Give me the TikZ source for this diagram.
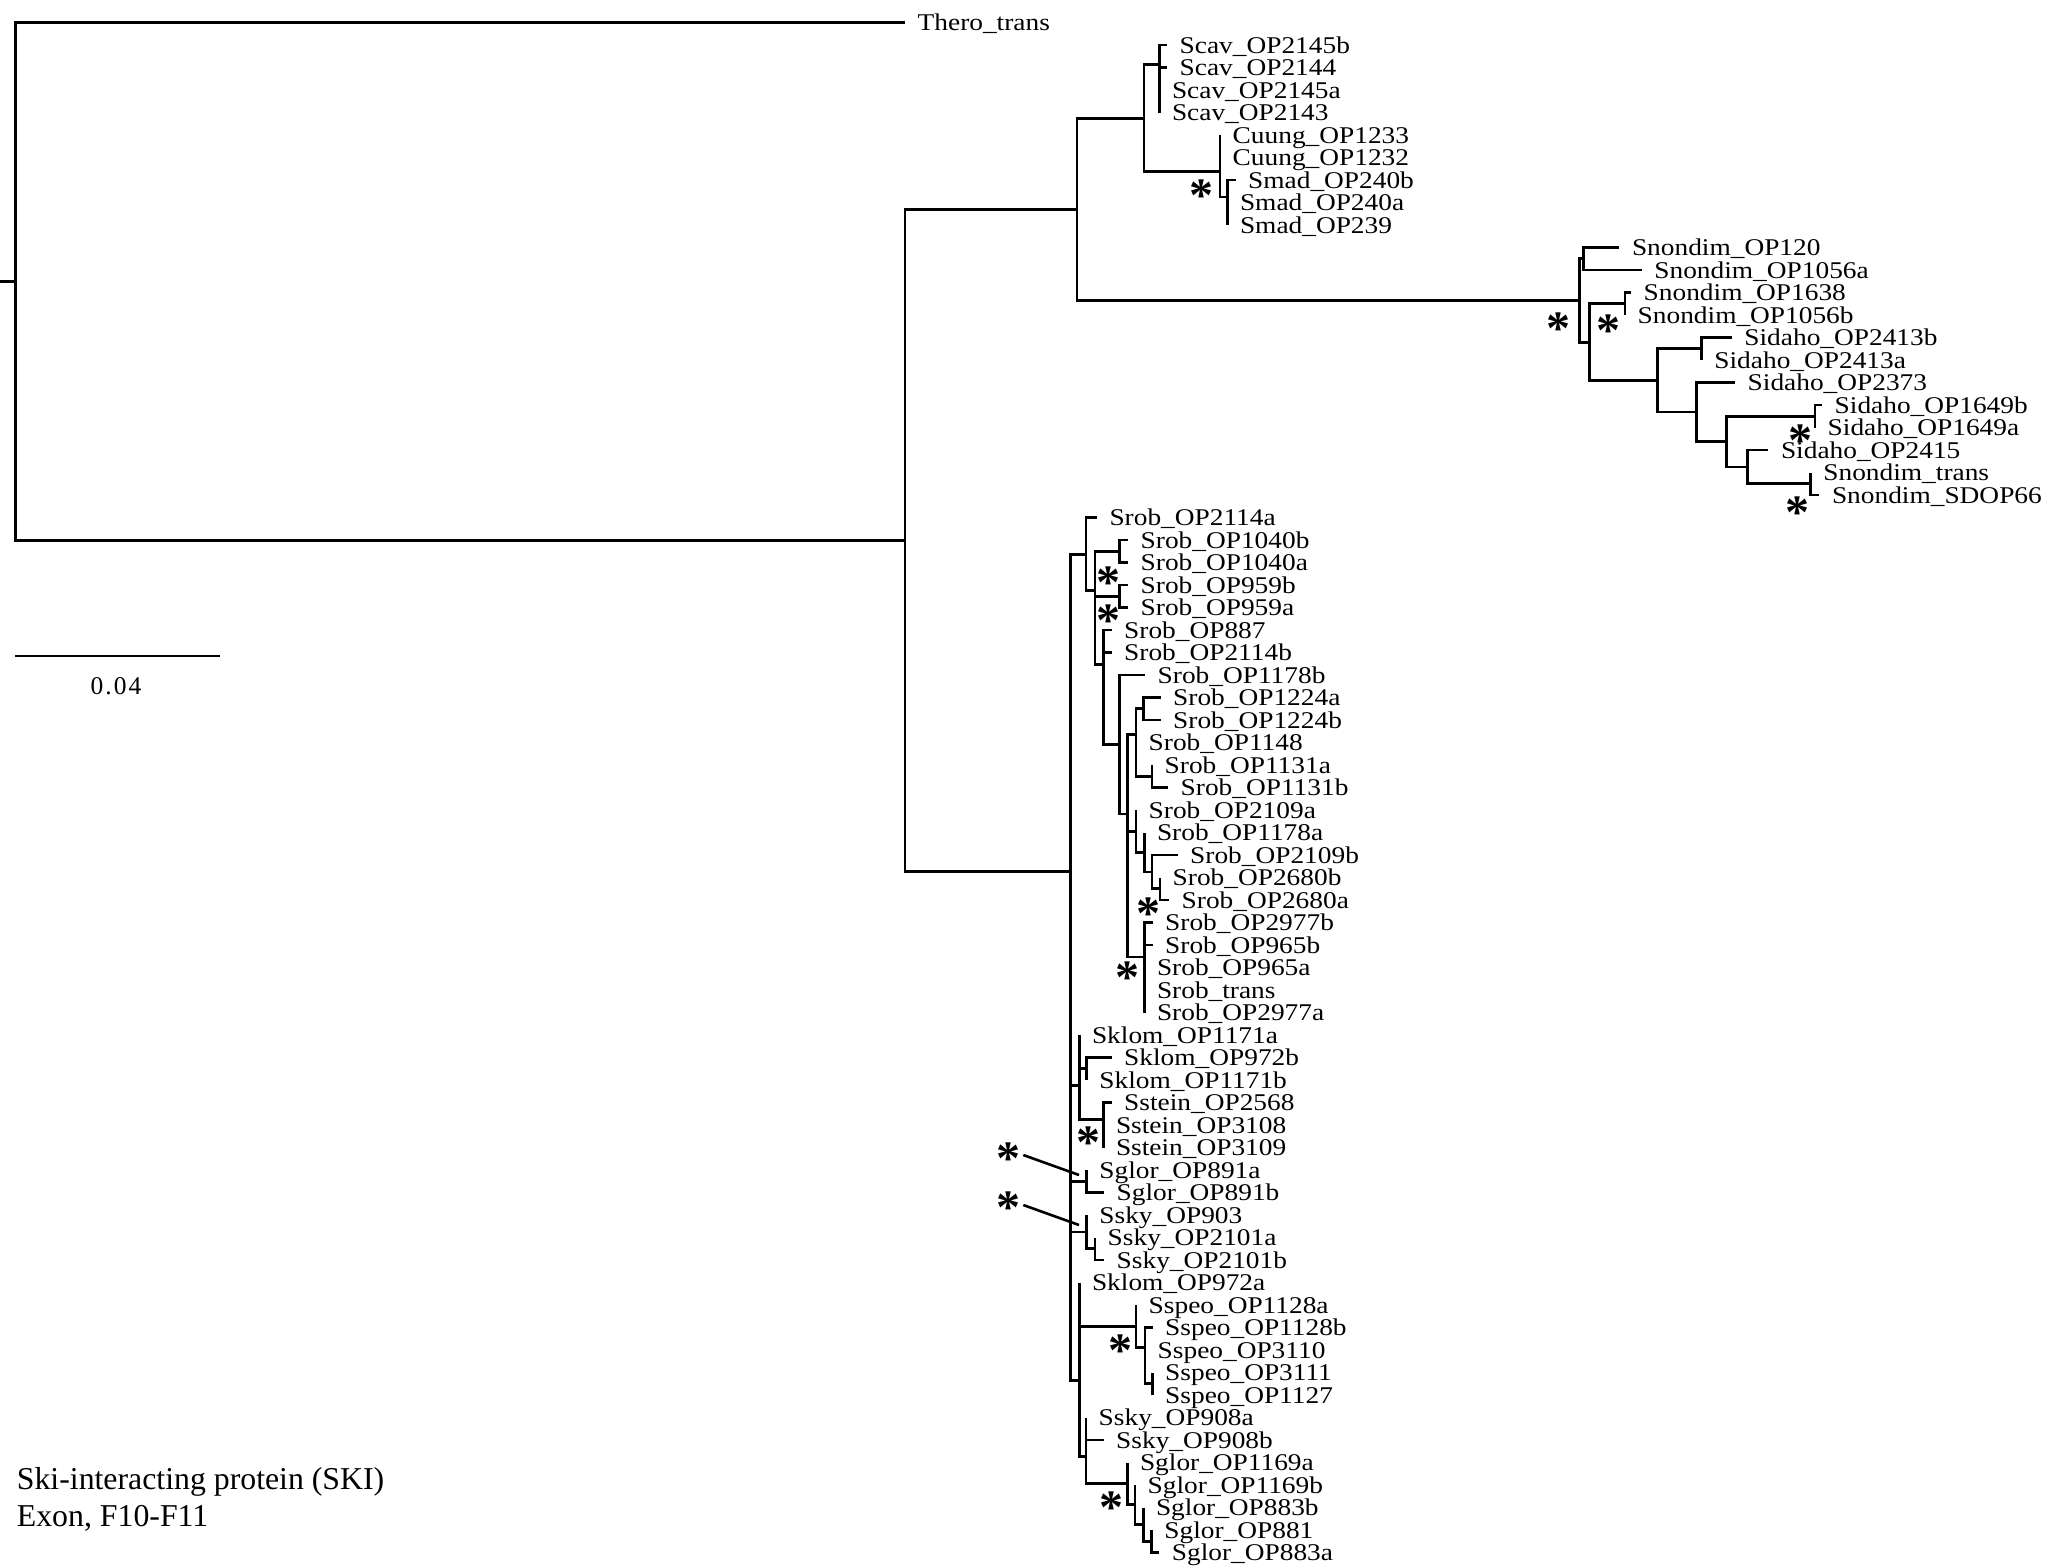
\documentclass[tikz,border=0pt]{standalone}
\usepackage{fontspec}
\setmainfont{Liberation Serif}
\newfontfamily\tipfam[FakeStretch=1.14]{Liberation Serif}
\newcommand\tipfont{\tipfam\fontsize{24pt}{24pt}\selectfont}
\newcommand\astfont{\rmfamily\bfseries\fontsize{48pt}{48pt}\selectfont}
\newcommand\capfont{\rmfamily\fontsize{31.8pt}{36.7pt}\selectfont}
\newcommand\scfont{\rmfamily\fontsize{25.5pt}{25.5pt}\selectfont}
\tikzset{
  br/.style={line width=2.8pt},
  tl/.style={anchor=base west, inner sep=0pt, xshift=12.5pt, yshift=-8pt, font=\tipfont},
  ast/.style={anchor=base, inner sep=0pt, font=\astfont},
  lead/.style={line width=2.6pt}
}
\newcommand\Tip[4]{\coordinate (#1) at (#2,#3*22.5); \node[tl] (#1l) at (#1) {#4};}
\newcommand\E[2]{\foreach \c in {#2}{\draw[br] (#1) |- (\c);}}
\begin{document}
\begin{tikzpicture}[x=1pt,y=-1pt]
\useasboundingbox (0,0) rectangle (2063,1567);
% internal nodes
\coordinate (rs) at (0,281.5);
\coordinate (R) at (15.5,281.5);
\coordinate (I) at (905,540.6);
\coordinate (U) at (1077,209.3);
\coordinate (L) at (1070.7,871.8);
\coordinate (SC) at (1144,118.15);
\coordinate (SN) at (1579.3,300.4);
\coordinate (Sv) at (1159.3,64.7);
\coordinate (CS) at (1220,171.6);
\coordinate (Sm) at (1227.3,196.9);
\coordinate (SN1) at (1583.3,258.75);
\coordinate (SN2) at (1589.3,342.1);
\coordinate (SN3) at (1625,303.75);
\coordinate (SI) at (1657.7,380.4);
\coordinate (SI1) at (1701.7,348.75);
\coordinate (SI2) at (1696.7,412);
\coordinate (SI3) at (1726.7,441.6);
\coordinate (SI4) at (1815,416.25);
\coordinate (SI5) at (1747.3,466.9);
\coordinate (SN6) at (1810.7,483.75);
\coordinate (B1) at (1086,554.1);
\coordinate (B2) at (1095,590.75);
\coordinate (C1) at (1119.3,551.25);
\coordinate (C2) at (1119.3,596.25);
\coordinate (B3) at (1103.3,664.25);
\coordinate (B4) at (1119.3,744.5);
\coordinate (B5) at (1127.3,814);
\coordinate (B6) at (1136,734.1);
\coordinate (C3) at (1143.3,708.75);
\coordinate (C4) at (1152,776.25);
\coordinate (B7) at (1136,831.1);
\coordinate (B7a) at (1144.3,852.2);
\coordinate (B7b) at (1152,871.9);
\coordinate (B7c) at (1160,888.75);
\coordinate (B8) at (1144.3,957);
\coordinate (K) at (1079.3,1085.6);
\coordinate (K1) at (1086.7,1068.75);
\coordinate (K2) at (1103.3,1119.4);
\coordinate (G) at (1086.7,1181.25);
\coordinate (S1) at (1086.7,1231.9);
\coordinate (S2) at (1095,1248.75);
\coordinate (M) at (1079.3,1380.2);
\coordinate (P) at (1136,1326.1);
\coordinate (P1) at (1145,1347.2);
\coordinate (P2) at (1152.5,1383.75);
\coordinate (Q) at (1086,1456.2);
\coordinate (Q1) at (1127.3,1483.6);
\coordinate (Q2) at (1135,1504.7);
\coordinate (Q3) at (1143.3,1524.4);
\coordinate (Q4) at (1151.7,1541.25);
% tips
\Tip{t1}{905}{1}{Thero\_trans}
\Tip{t2}{1167}{2}{Scav\_OP2145b}
\Tip{t3}{1167}{3}{Scav\_OP2144}
\Tip{t4}{1159.3}{4}{Scav\_OP2145a}
\Tip{t5}{1159.3}{5}{Scav\_OP2143}
\Tip{t6}{1220}{6}{Cuung\_OP1233}
\Tip{t7}{1220}{7}{Cuung\_OP1232}
\Tip{t8}{1235.5}{8}{Smad\_OP240b}
\Tip{t9}{1227.3}{9}{Smad\_OP240a}
\Tip{t10}{1227.3}{10}{Smad\_OP239}
\Tip{t11}{1619.3}{11}{Snondim\_OP120}
\Tip{t12}{1641.7}{12}{Snondim\_OP1056a}
\Tip{t13}{1631}{13}{Snondim\_OP1638}
\Tip{t14}{1625}{14}{Snondim\_OP1056b}
\Tip{t15}{1731.7}{15}{Sidaho\_OP2413b}
\Tip{t16}{1701.7}{16}{Sidaho\_OP2413a}
\Tip{t17}{1735}{17}{Sidaho\_OP2373}
\Tip{t18}{1822}{18}{Sidaho\_OP1649b}
\Tip{t19}{1815}{19}{Sidaho\_OP1649a}
\Tip{t20}{1768.3}{20}{Sidaho\_OP2415}
\Tip{t21}{1810.7}{21}{Snondim\_trans}
\Tip{t22}{1819.3}{22}{Snondim\_SDOP66}
\Tip{t23}{1096.8}{23}{Srob\_OP2114a}
\Tip{t24}{1128}{24}{Srob\_OP1040b}
\Tip{t25}{1128}{25}{Srob\_OP1040a}
\Tip{t26}{1128}{26}{Srob\_OP959b}
\Tip{t27}{1128}{27}{Srob\_OP959a}
\Tip{t28}{1111.5}{28}{Srob\_OP887}
\Tip{t29}{1111.5}{29}{Srob\_OP2114b}
\Tip{t30}{1145}{30}{Srob\_OP1178b}
\Tip{t31}{1160.5}{31}{Srob\_OP1224a}
\Tip{t32}{1160.5}{32}{Srob\_OP1224b}
\Tip{t33}{1136}{33}{Srob\_OP1148}
\Tip{t34}{1152}{34}{Srob\_OP1131a}
\Tip{t35}{1168}{35}{Srob\_OP1131b}
\Tip{t36}{1136}{36}{Srob\_OP2109a}
\Tip{t37}{1144.3}{37}{Srob\_OP1178a}
\Tip{t38}{1177.5}{38}{Srob\_OP2109b}
\Tip{t39}{1160}{39}{Srob\_OP2680b}
\Tip{t40}{1169}{40}{Srob\_OP2680a}
\Tip{t41}{1152.5}{41}{Srob\_OP2977b}
\Tip{t42}{1152.5}{42}{Srob\_OP965b}
\Tip{t43}{1144.3}{43}{Srob\_OP965a}
\Tip{t44}{1144.3}{44}{Srob\_trans}
\Tip{t45}{1144.3}{45}{Srob\_OP2977a}
\Tip{t46}{1079.3}{46}{Sklom\_OP1171a}
\Tip{t47}{1111.5}{47}{Sklom\_OP972b}
\Tip{t48}{1086.7}{48}{Sklom\_OP1171b}
\Tip{t49}{1111.5}{49}{Sstein\_OP2568}
\Tip{t50}{1103.3}{50}{Sstein\_OP3108}
\Tip{t51}{1103.3}{51}{Sstein\_OP3109}
\Tip{t52}{1086.7}{52}{Sglor\_OP891a}
\Tip{t53}{1104}{53}{Sglor\_OP891b}
\Tip{t54}{1086.7}{54}{Ssky\_OP903}
\Tip{t55}{1095}{55}{Ssky\_OP2101a}
\Tip{t56}{1104}{56}{Ssky\_OP2101b}
\Tip{t57}{1079.3}{57}{Sklom\_OP972a}
\Tip{t58}{1136}{58}{Sspeo\_OP1128a}
\Tip{t59}{1152.5}{59}{Sspeo\_OP1128b}
\Tip{t60}{1145}{60}{Sspeo\_OP3110}
\Tip{t61}{1152.5}{61}{Sspeo\_OP3111}
\Tip{t62}{1152.5}{62}{Sspeo\_OP1127}
\Tip{t63}{1086}{63}{Ssky\_OP908a}
\Tip{t64}{1103.5}{64}{Ssky\_OP908b}
\Tip{t65}{1127.3}{65}{Sglor\_OP1169a}
\Tip{t66}{1135}{66}{Sglor\_OP1169b}
\Tip{t67}{1143.3}{67}{Sglor\_OP883b}
\Tip{t68}{1151.7}{68}{Sglor\_OP881}
\Tip{t69}{1159.2}{69}{Sglor\_OP883a}
% branches
\draw[br] (rs) -- (R);
\E{R}{t1,I}
\E{I}{U,L}
\E{U}{SC,SN}
\E{SC}{Sv,CS}
\E{Sv}{t2,t3,t4,t5}
\E{CS}{t6,t7,Sm}
\E{Sm}{t8,t9,t10}
\E{SN}{SN1,SN2}
\E{SN1}{t11,t12}
\E{SN2}{SN3,SI}
\E{SN3}{t13,t14}
\E{SI}{SI1,SI2}
\E{SI1}{t15,t16}
\E{SI2}{t17,SI3}
\E{SI3}{SI4,SI5}
\E{SI4}{t18,t19}
\E{SI5}{t20,SN6}
\E{SN6}{t21,t22}
\E{L}{B1,K,G,S1,M}
\E{B1}{t23,B2}
\E{B2}{C1,C2,B3}
\E{C1}{t24,t25}
\E{C2}{t26,t27}
\E{B3}{t28,t29,B4}
\E{B4}{t30,B5}
\E{B5}{B6,B7,B8}
\E{B6}{C3,t33,C4}
\E{C3}{t31,t32}
\E{C4}{t34,t35}
\E{B7}{t36,B7a}
\E{B7a}{t37,B7b}
\E{B7b}{t38,B7c}
\E{B7c}{t39,t40}
\E{B8}{t41,t42,t43,t44,t45}
\E{K}{t46,K1,K2}
\E{K1}{t47,t48}
\E{K2}{t49,t50,t51}
\E{G}{t52,t53}
\E{S1}{t54,S2}
\E{S2}{t55,t56}
\E{M}{t57,P,Q}
\E{P}{t58,P1}
\E{P1}{t59,t60,P2}
\E{P2}{t61,t62}
\E{Q}{t63,t64,Q1}
\E{Q1}{t65,Q2}
\E{Q2}{t66,Q3}
\E{Q3}{t67,Q4}
\E{Q4}{t68,t69}
% asterisks
\node[ast] (a1) at (1201.7,211.3) {*};
\node[ast] (a2) at (1558.3,344.7) {*};
\node[ast] (a3) at (1608.3,346.3) {*};
\node[ast] (a4) at (1800,456) {*};
\node[ast] (a5) at (1797,528) {*};
\node[ast] (a6) at (1108.3,598) {*};
\node[ast] (a7) at (1108.3,636.3) {*};
\node[ast] (a8) at (1148.3,929.7) {*};
\node[ast] (a9) at (1127.3,993) {*};
\node[ast] (a10) at (1088.3,1158) {*};
\node[ast] (a11) at (1008.3,1174.7) {*};
\node[ast] (a12) at (1008.3,1223) {*};
\node[ast] (a13) at (1120,1366.3) {*};
\node[ast] (a14) at (1111.7,1523) {*};
% leaders
\coordinate (l1s) at (1023.3,1155);
\coordinate (l1e) at (1079,1175);
\coordinate (l2s) at (1023.3,1205);
\coordinate (l2e) at (1079,1225);
\draw[lead] (l1s) -- (l1e);
\draw[lead] (l2s) -- (l2e);
% scale bar
\coordinate (sb1) at (15,656);
\coordinate (sb2) at (220,656);
\draw[br] (sb1) -- (sb2);
\node[anchor=base, inner sep=0pt, font=\scfont] (sbl) at (116,694) {0\kern2pt.\kern2pt0\kern2pt4};
% caption
\node[anchor=base west, inner sep=0pt, font=\capfont] (cap1) at (16.7,1489.3) {Ski-interacting protein (SKI)};
\node[anchor=base west, inner sep=0pt, font=\capfont] (cap2) at (16.7,1526) {Exon, F10-F11};
\end{tikzpicture}
\end{document}
